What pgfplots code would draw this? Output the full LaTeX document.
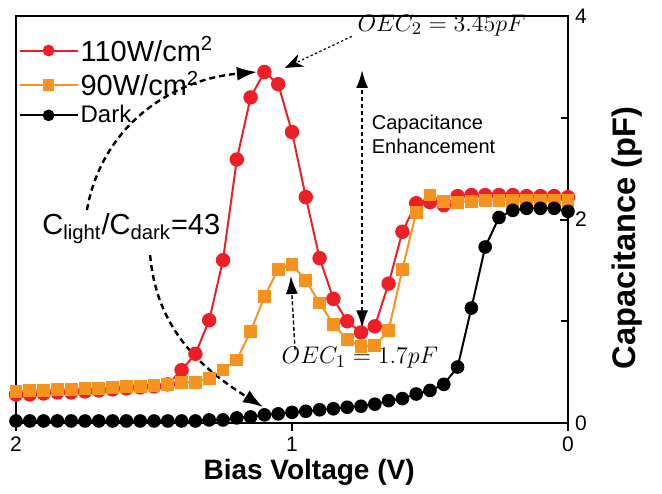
\documentclass[border=0pt]{standalone}
\usepackage[no-math]{fontspec}
\setmainfont{Liberation Sans}
\usepackage{pgfplots}
\usepackage{pgfplotstable}
\pgfplotsset{compat=1.18}
\usetikzlibrary{arrows.meta}

\definecolor{redline}{RGB}{236,30,38}
\definecolor{orangeline}{RGB}{246,146,30}

% bias voltage (V), capacitance (pF) for 110 W/cm2, 90 W/cm2 and dark
\pgfplotstableread{
v    c110  c90   dark
2.00 0.28  0.31  0.02
1.95 0.28  0.32  0.02
1.90 0.29  0.32  0.02
1.85 0.30  0.33  0.02
1.80 0.30  0.33  0.02
1.75 0.31  0.34  0.02
1.70 0.32  0.34  0.02
1.65 0.33  0.35  0.02
1.60 0.34  0.36  0.02
1.55 0.35  0.36  0.02
1.50 0.36  0.37  0.02
1.45 0.38  0.38  0.02
1.40 0.52  0.40  0.02
1.35 0.68  0.40  0.02
1.30 1.01  0.44  0.03
1.25 1.60  0.52  0.03
1.20 2.59  0.62  0.05
1.15 3.20  0.90  0.06
1.10 3.45  1.24  0.08
1.05 3.33  1.51  0.09
1.00 2.86  1.56  0.105
0.95 2.22  1.40  0.115
0.90 1.62  1.18  0.13
0.85 1.22  0.97  0.14
0.80 1.00  0.82  0.155
0.75 0.89  0.75  0.165
0.70 0.95  0.76  0.185
0.65 1.37  0.91  0.22
0.60 1.88  1.51  0.24
0.55 2.16  2.07  0.285
0.50 2.17  2.24  0.32
0.45 2.14  2.18  0.38
0.40 2.23  2.17  0.55
0.35 2.24  2.18  1.13
0.30 2.24  2.19  1.73
0.25 2.24  2.19  2.02
0.20 2.24  2.19  2.09
0.15 2.23  2.19  2.11
0.10 2.23  2.19  2.11
0.05 2.23  2.19  2.11
0.00 2.22  2.19  2.08
}\cvdata

\begin{document}
\begin{tikzpicture}
\begin{axis}[
    name=ax,
    scale only axis,
    width=276pt, height=203.5pt,
    x dir=reverse,
    xmin=0, xmax=2, ymin=0, ymax=4,
    clip=false,
    axis line style={line width=1pt},
    xtick={0,1,2}, xticklabels={0,1,2},
    ytick={0,2,4}, yticklabels={0,2,4},
    minor ytick={1,3},
    xtick pos=bottom,
    ytick pos=right, yticklabel pos=right,
    tick align=inside,
    major tick length=4pt, minor tick length=3.5pt,
    every tick/.append style={black, line width=1pt},
    every x tick/.append style={yshift=-4pt},
    tick label style={font=\fontsize{10.5}{12}\selectfont},
    xticklabel style={yshift=-3.5pt},
    xlabel={Bias Voltage (V)},
    xlabel style={font=\bfseries\fontsize{14}{16}\selectfont, at={(axis description cs:0.531,-0.12)}, anchor=center},
    ylabel={Capacitance (pF)},
    ylabel style={font=\bfseries\fontsize{16.3}{18}\selectfont, at={(axis description cs:1.107,0.455)}, anchor=center},
    legend style={at={(axis description cs:0.004,0.955)}, anchor=north west,
      draw=none, fill=none, inner sep=0pt, row sep=1.3pt,
      font=\fontsize{14.5}{16}\selectfont,
      nodes={inner sep=1pt}},
    legend cell align=left,
    legend image code/.code={\draw[mark repeat=2,mark phase=2,mark size=2.4pt,#1] plot coordinates {(0pt,0pt) (14.5pt,0pt) (29pt,0pt)};},
]
\addplot[redline, line width=1pt, mark=*, mark size=3.1pt, mark options={solid}] table[x=v, y=c110] {\cvdata};
\addlegendentry{110W/cm\textsuperscript{2}}
\addplot[orangeline, line width=1pt, mark=square*, mark size=2.7pt, mark options={solid}] table[x=v, y=c90] {\cvdata};
\addlegendentry{90W/cm\textsuperscript{2}}
\addplot[black, line width=1pt, mark=*, mark size=2.9pt, mark options={solid}] table[x=v, y=dark] {\cvdata};
\addlegendentry{\fontsize{12}{14}\selectfont Dark}

% annotations
\node[anchor=west, inner sep=0pt, font=\fontsize{12.5}{14}\selectfont] at (axis cs:0.764,3.91) {$OEC_2 = 3.45pF$};
\draw[line width=0.6pt, dash pattern=on 1.2pt off 1.2pt, -{Stealth[length=9pt,width=7pt]}] (axis cs:0.783,3.80) -- (axis cs:1.025,3.49);
\draw[line width=1.1pt, dash pattern=on 2pt off 1.5pt, {Latex[length=9pt,width=6pt]}-{Latex[length=9pt,width=6pt]}] (axis cs:0.746,0.93) -- (axis cs:0.746,3.47);
\node[anchor=west, align=left, inner sep=0pt, font=\fontsize{10}{12}\selectfont] at (axis cs:0.712,2.84) {Capacitance\\Enhancement};
\node[inner sep=0pt, font=\fontsize{12.5}{14}\selectfont] at (axis cs:0.754,0.64) {$OEC_1 = 1.7pF$};
\draw[line width=0.7pt, dash pattern=on 2pt off 1.2pt, -{Latex[length=9pt,width=6pt]}] (axis cs:0.989,0.717) -- (axis cs:1.004,1.445);
\node[anchor=base west, inner sep=0pt, font=\fontsize{14.5}{16}\selectfont] at (axis cs:1.906,1.85) {C\textsubscript{light}/C\textsubscript{dark}=43};
\draw[line width=1.2pt, dash pattern=on 3pt off 2pt, -{Latex[length=10pt,width=7pt]}] (axis cs:1.743,2.093) to[out=80,in=185] (axis cs:1.127,3.45);
\draw[line width=1.2pt, dash pattern=on 3pt off 2pt, -{Latex[length=10pt,width=7pt]}] (axis cs:1.514,1.65) to[out=-85,in=148] (axis cs:1.105,0.157);
\end{axis}
\pgfresetboundingbox
\path[use as bounding box] ([shift={(-8pt,-35pt)}]ax.south west) rectangle ([shift={(47pt,8pt)}]ax.north east);
\end{tikzpicture}
\end{document}
